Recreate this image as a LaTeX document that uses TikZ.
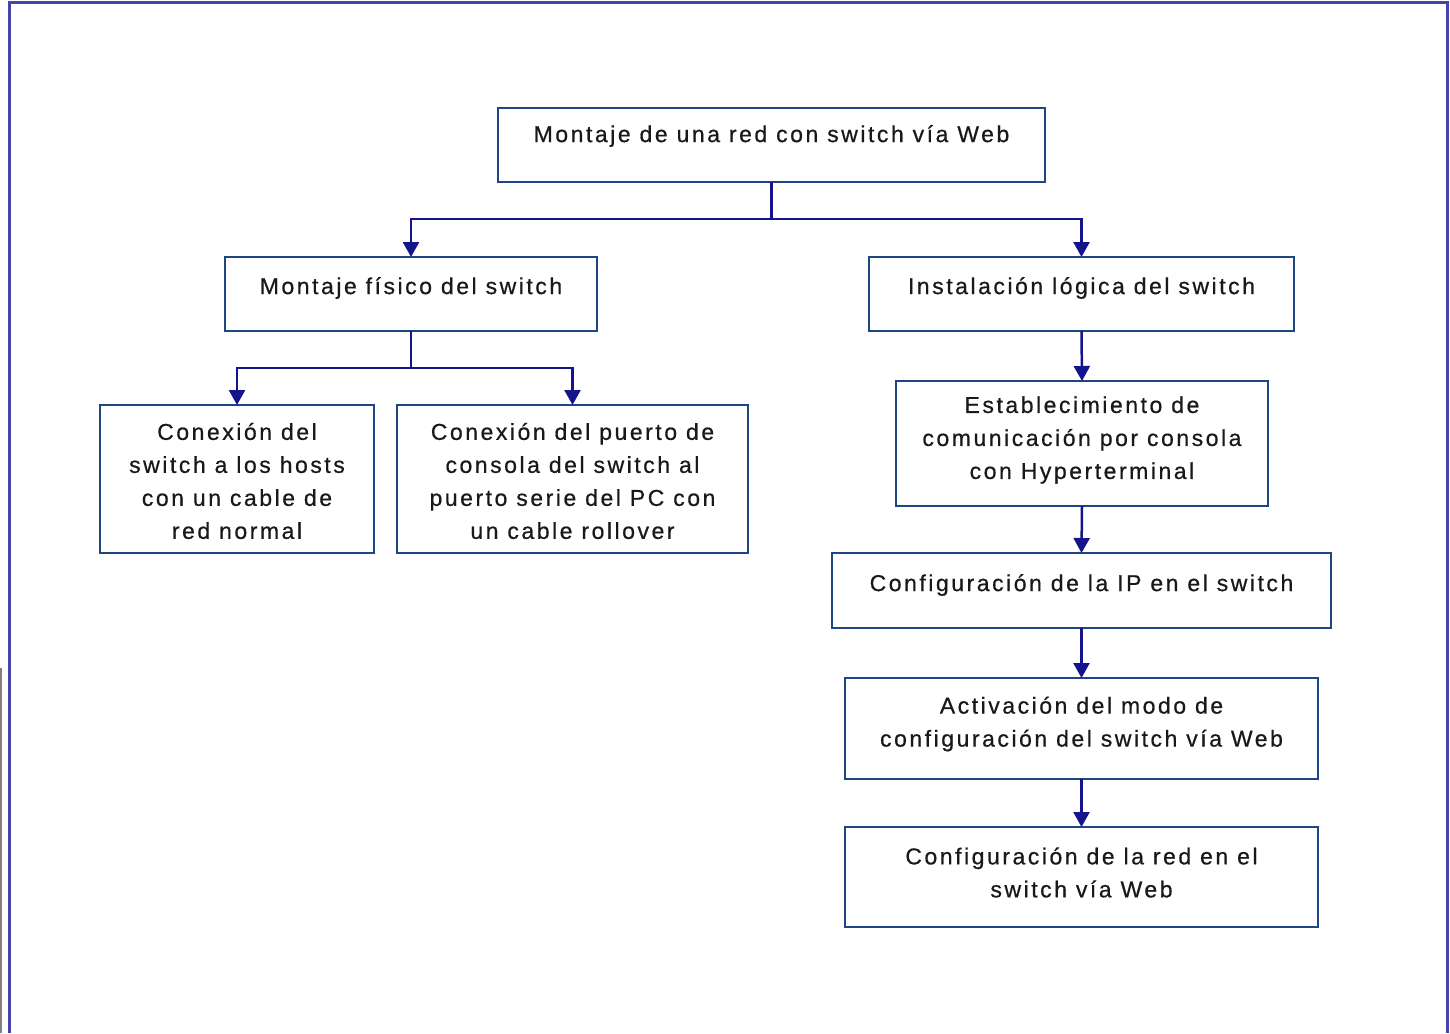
\documentclass[tikz,border=0pt]{standalone}
\usepackage{fontspec}
\setmainfont{Liberation Sans}[LetterSpace=11,FakeBold=0.6]
\usetikzlibrary{arrows.meta}
\definecolor{framec}{RGB}{68,68,170}
\definecolor{boxc}{RGB}{30,70,130}
\definecolor{linkc}{RGB}{20,20,140}
\definecolor{txtc}{RGB}{25,25,25}
\tikzset{
  boxnode/.style={draw=boxc, line width=2.5pt, inner sep=0pt, outer sep=0pt, fill=white},
  txtnode/.style={text=txtc, inner sep=0pt, align=center, font=\fontsize{23}{33}\selectfont},
  link/.style={draw=linkc, line width=2.5pt},
  arrowlink/.style={link, -{Triangle[width=16pt,length=15pt]}},
}
\begin{document}
\begin{tikzpicture}[x=1pt,y=-1pt]
\useasboundingbox (0,0) rectangle (1450,1033);
% outer frame
\draw[framec, line width=3pt] (9,1033) -- (9,3) -- (1447,3) -- (1447,1033);
\draw[gray, line width=2pt] (1,668) -- (1,1033);
% boxes
\node[boxnode, minimum width=547pt, minimum height=74pt] (b0) at (771.5,145) {};
\node[boxnode, minimum width=372pt, minimum height=74pt] (b1) at (411,294) {};
\node[boxnode, minimum width=425pt, minimum height=74pt] (b2) at (1081.5,294) {};
\node[boxnode, minimum width=274pt, minimum height=148pt] (b3) at (237,479) {};
\node[boxnode, minimum width=351pt, minimum height=148pt] (b4) at (572.5,479) {};
\node[boxnode, minimum width=372pt, minimum height=125pt] (b5) at (1082,443.5) {};
\node[boxnode, minimum width=499pt, minimum height=75pt] (b6) at (1081.5,590.5) {};
\node[boxnode, minimum width=473pt, minimum height=101pt] (b7) at (1081.5,728.5) {};
\node[boxnode, minimum width=473pt, minimum height=100pt] (b8) at (1081.5,877) {};
% texts
\node[txtnode] (t0) at (771.5,136) {Montaje de una red con switch vía Web};
\node[txtnode] (t1) at (411,288) {Montaje físico del switch};
\node[txtnode] (t2) at (1081.5,288) {Instalación lógica del switch};
\node[txtnode] (t3) at (237,481) {Conexión del\\switch a los hosts\\con un cable de\\red normal};
\node[txtnode] (t4) at (572.5,481) {Conexión del puerto de\\consola del switch al\\puerto serie del PC con\\un cable rollover};
\node[txtnode] (t5) at (1082,440) {Establecimiento de\\comunicación por consola\\con Hyperterminal};
\node[txtnode] (t6) at (1081.5,585) {Configuración de la IP en el switch};
\node[txtnode] (t7) at (1081.5,724) {Activación del modo de\\configuración del switch vía Web};
\node[txtnode] (t8) at (1081.5,872.5) {Configuración de la red en el\\switch vía Web};
% connectors
\coordinate (j0) at (771.5,219);
\coordinate (j1) at (411,368);
\draw[link] (b0.south) -- (j0);
\draw[arrowlink] (j0) -| (b1.north);
\draw[arrowlink] (j0) -| (b2.north);
\draw[link] (b1.south) -- (j1);
\draw[arrowlink] (j1) -| (b3.north);
\draw[arrowlink] (j1) -| (b4.north);
\draw[arrowlink] (b2.south) -- (b5.north);
\draw[arrowlink] (b5.south) -- (b6.north);
\draw[arrowlink] (b6.south) -- (b7.north);
\draw[arrowlink] (b7.south) -- (b8.north);
\end{tikzpicture}
\end{document}
